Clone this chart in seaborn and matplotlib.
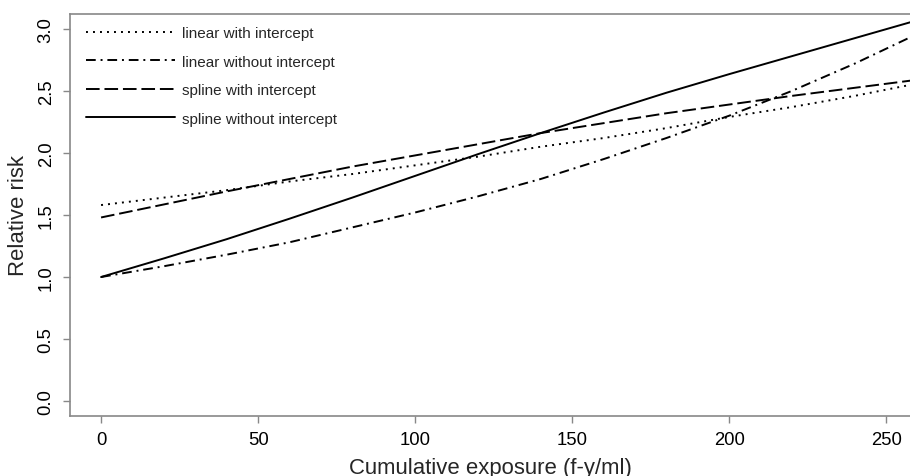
import pandas as pd
import matplotlib
matplotlib.use('Agg')
import matplotlib.pyplot as plt
import seaborn as sns

# exposure grid (f-y/ml) and relative risk
exposure = [0, 20, 40, 60, 80, 100, 120, 140, 160, 180, 200, 220, 240, 260]
lin_int = [1.58, 1.64, 1.70, 1.77, 1.83, 1.90, 1.97, 2.05, 2.12, 2.20, 2.29, 2.37, 2.46, 2.56]
lin_noint = [1.00, 1.087, 1.18, 1.28, 1.40, 1.52, 1.65, 1.79, 1.95, 2.12, 2.30, 2.50, 2.72, 2.96]
spl_int = [1.48, 1.585, 1.69, 1.79, 1.89, 1.98, 2.07, 2.16, 2.24, 2.32, 2.39, 2.46, 2.525, 2.59]
spl_noint = [1.00, 1.15, 1.305, 1.47, 1.64, 1.815, 1.99, 2.16, 2.325, 2.485, 2.635, 2.78, 2.925, 3.07]

labels = ['linear with intercept', 'linear without intercept',
          'spline with intercept', 'spline without intercept']
yticks = [0.0, 0.5, 1.0, 1.5, 2.0, 2.5, 3.0]
xticks = [0, 50, 100, 150, 200, 250]

sns.set_style('white')
plt.rcParams['font.family'] = ['Liberation Sans', 'DejaVu Sans']

df = pd.DataFrame({'x': exposure, labels[0]: lin_int, labels[1]: lin_noint,
                   labels[2]: spl_int, labels[3]: spl_noint})
df = df.melt(id_vars='x', var_name='model', value_name='rr')

fig = plt.figure(figsize=(9.1, 4.77), dpi=100)
ax = fig.add_axes([0.0769, 0.1258, 0.9231, 0.8428])

styles = {labels[0]: (0, (1, 2.6)),
          labels[1]: (0, (5, 2.5, 1, 2.5)),
          labels[2]: (0, (7, 2.5)),
          labels[3]: '-'}
for name in labels:
    sub = df[df['model'] == name]
    sns.lineplot(data=sub, x='x', y='rr', ax=ax, color='black', lw=1.4,
                 linestyle=styles[name], label=name)

ax.set_xlim(-9.9, 257.6)
ax.set_ylim(-0.12, 3.12)
ax.set_xticks(xticks)
ax.set_yticks(yticks)
ax.set_yticklabels([f'{v:.1f}' for v in yticks], rotation=90, va='center')
ax.tick_params(axis='both', colors='#888888', labelcolor='black',
               labelsize=13.3, length=5, width=1, direction='out', pad=6,
               bottom=True, left=True)
for s in ['left', 'bottom', 'top']:
    ax.spines[s].set_color('#888888')
    ax.spines[s].set_linewidth(1.2)
ax.spines['right'].set_visible(False)

ax.set_xlabel('Cumulative exposure (f-y/ml)', fontsize=15.9, labelpad=6)
ax.set_ylabel('Relative risk', fontsize=15.9, labelpad=6)

ax.legend(loc='upper left', frameon=False, fontsize=11, handlelength=5.8,
          handletextpad=0.45, labelspacing=0.95, borderaxespad=0.4,
          bbox_to_anchor=(0.005, 1.0))

plt.savefig('out.png', dpi=100)
